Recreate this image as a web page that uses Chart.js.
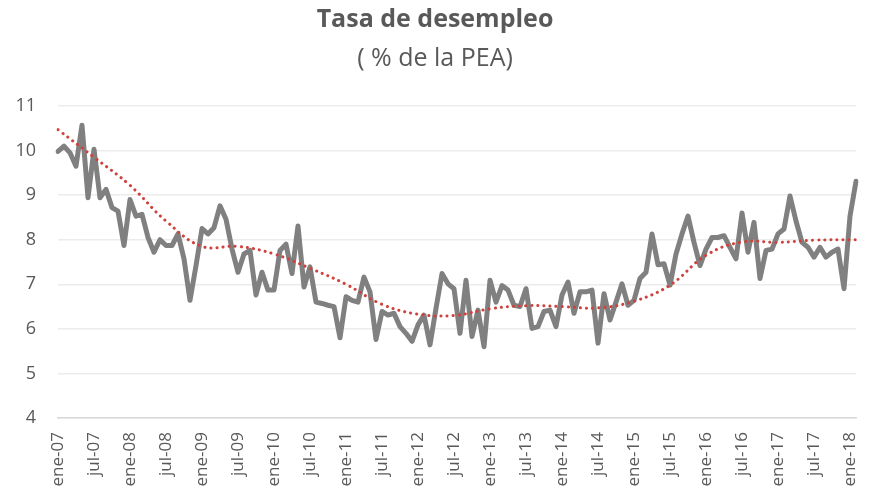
<!DOCTYPE html>
<html>
<head>
<meta charset="utf-8">
<script src="https://cdn.jsdelivr.net/npm/chart.js@4/dist/chart.umd.min.js"></script>
<style>
  html, body { margin: 0; padding: 0; background: #fff; }
  #wrap { width: 870px; height: 494px; }
</style>
</head>
<body>
<div id="wrap"><canvas id="desempleo"></canvas></div>
<script>
// meses y años del eje
const meses = ["ene", "feb", "mar", "abr", "may", "jun", "jul", "ago", "sep", "oct", "nov", "dic"];
const anios = ["07", "08", "09", "10", "11", "12", "13", "14", "15", "16", "17", "18"];
const totalMeses = 134; // ene-07 .. feb-18

// tasa mensual (% de la PEA)
const tasa = [
  9.98, 10.1, 9.95, 9.65, 10.57, 8.94, 10.03, 8.94, 9.13, 8.72, 8.64, 7.87,
  8.9, 8.53, 8.57, 8.05, 7.72, 8.0, 7.87, 7.87, 8.13, 7.57, 6.64, 7.42,
  8.25, 8.13, 8.27, 8.76, 8.46, 7.79, 7.27, 7.68, 7.76, 6.76, 7.27, 6.87,
  6.87, 7.76, 7.9, 7.24, 8.31, 6.94, 7.39, 6.6, 6.57, 6.53, 6.5, 5.8,
  6.72, 6.64, 6.6, 7.16, 6.83, 5.76, 6.39, 6.31, 6.35, 6.05, 5.9, 5.72,
  6.09, 6.31, 5.64, 6.46, 7.24, 7.01, 6.9, 5.9, 7.09, 5.83, 6.42, 5.6,
  7.09, 6.6, 6.97, 6.87, 6.53, 6.5, 6.9, 6.01, 6.05, 6.39, 6.42, 6.05,
  6.76, 7.05, 6.35, 6.83, 6.83, 6.87, 5.68, 6.79, 6.2, 6.6, 7.01, 6.53,
  6.64, 7.13, 7.27, 8.13, 7.44, 7.46, 6.98, 7.68, 8.13, 8.53, 7.94, 7.42,
  7.79, 8.05, 8.05, 8.09, 7.83, 7.57, 8.6, 7.72, 8.39, 7.13, 7.76, 7.79,
  8.13, 8.24, 8.98, 8.42, 7.94, 7.83, 7.61, 7.83, 7.61, 7.72, 7.79, 6.9,
  8.53, 9.31
];

// linea de tendencia (punteada), leida cada seis meses aprox.
const tendenciaMes = [0, 6, 12, 18, 24, 30, 36, 42, 48, 54, 60, 66, 72, 78, 84, 90, 96, 102, 108, 114, 120, 126, 133];
const tendenciaValor = [10.47, 9.85, 9.22, 8.42, 7.85, 7.85, 7.68, 7.36, 7.0, 6.55, 6.33, 6.3, 6.45, 6.52, 6.5, 6.47, 6.62, 6.98, 7.65, 7.95, 7.94, 7.99, 8.0];

const etiquetas = [];
for (let i = 0; i < totalMeses; i++) {
  etiquetas.push(meses[i % 12] + "-" + anios[Math.floor(i / 12)]);
}

const tendencia = new Array(totalMeses).fill(null);
tendenciaMes.forEach((m, k) => { tendencia[m] = tendenciaValor[k]; });

const gris = "#595959";

new Chart(document.getElementById("desempleo"), {
  type: "line",
  data: {
    labels: etiquetas,
    datasets: [
      {
        label: "Tasa de desempleo",
        data: tasa,
        borderColor: "#808080",
        borderWidth: 5,
        borderJoinStyle: "round",
        borderCapStyle: "round",
        pointRadius: 0,
        tension: 0,
        order: 2
      },
      {
        label: "Tendencia",
        data: tendencia,
        spanGaps: true,
        borderColor: "#d0403c",
        borderWidth: 3,
        borderDash: [0.1, 6],
        borderCapStyle: "round",
        pointRadius: 0,
        tension: 0.4,
        order: 1
      }
    ]
  },
  options: {
    responsive: true,
    maintainAspectRatio: false,
    animation: false,
    layout: { padding: { left: 14, right: 14, top: 0, bottom: 0 } },
    plugins: {
      legend: { display: false },
      tooltip: { enabled: false },
      title: {
        display: true,
        text: "Tasa de desempleo",
        color: gris,
        font: { family: "'Open Sans'", size: 25, weight: "bold" },
        padding: { top: 5, bottom: 0 }
      },
      subtitle: {
        display: true,
        text: "( % de la PEA)",
        color: gris,
        font: { family: "'Open Sans'", size: 25 },
        padding: { top: 9, bottom: 32 }
      }
    },
    scales: {
      x: {
        grid: { display: false },
        border: { display: true, color: "#d9d9d9", width: 1.5 },
        ticks: {
          autoSkip: false,
          minRotation: 90,
          maxRotation: 90,
          padding: 6,
          color: gris,
          font: { family: "'Open Sans'", size: 17 },
          callback: function (value, index) {
            return index % 6 === 0 ? this.getLabelForValue(value) : "";
          }
        },
        afterFit: (scale) => {
          scale.height = 76;
          scale.paddingLeft = 0;
          scale.paddingRight = 0;
        }
      },
      y: {
        min: 4,
        max: 11,
        grid: { color: "#ececec", lineWidth: 1.5, drawTicks: false },
        border: { display: false },
        ticks: {
          stepSize: 1,
          padding: 22,
          color: gris,
          font: { family: "'Open Sans'", size: 18 }
        },
        afterFit: (scale) => { scale.width = 44; }
      }
    }
  }
});
</script>
</body>
</html>
